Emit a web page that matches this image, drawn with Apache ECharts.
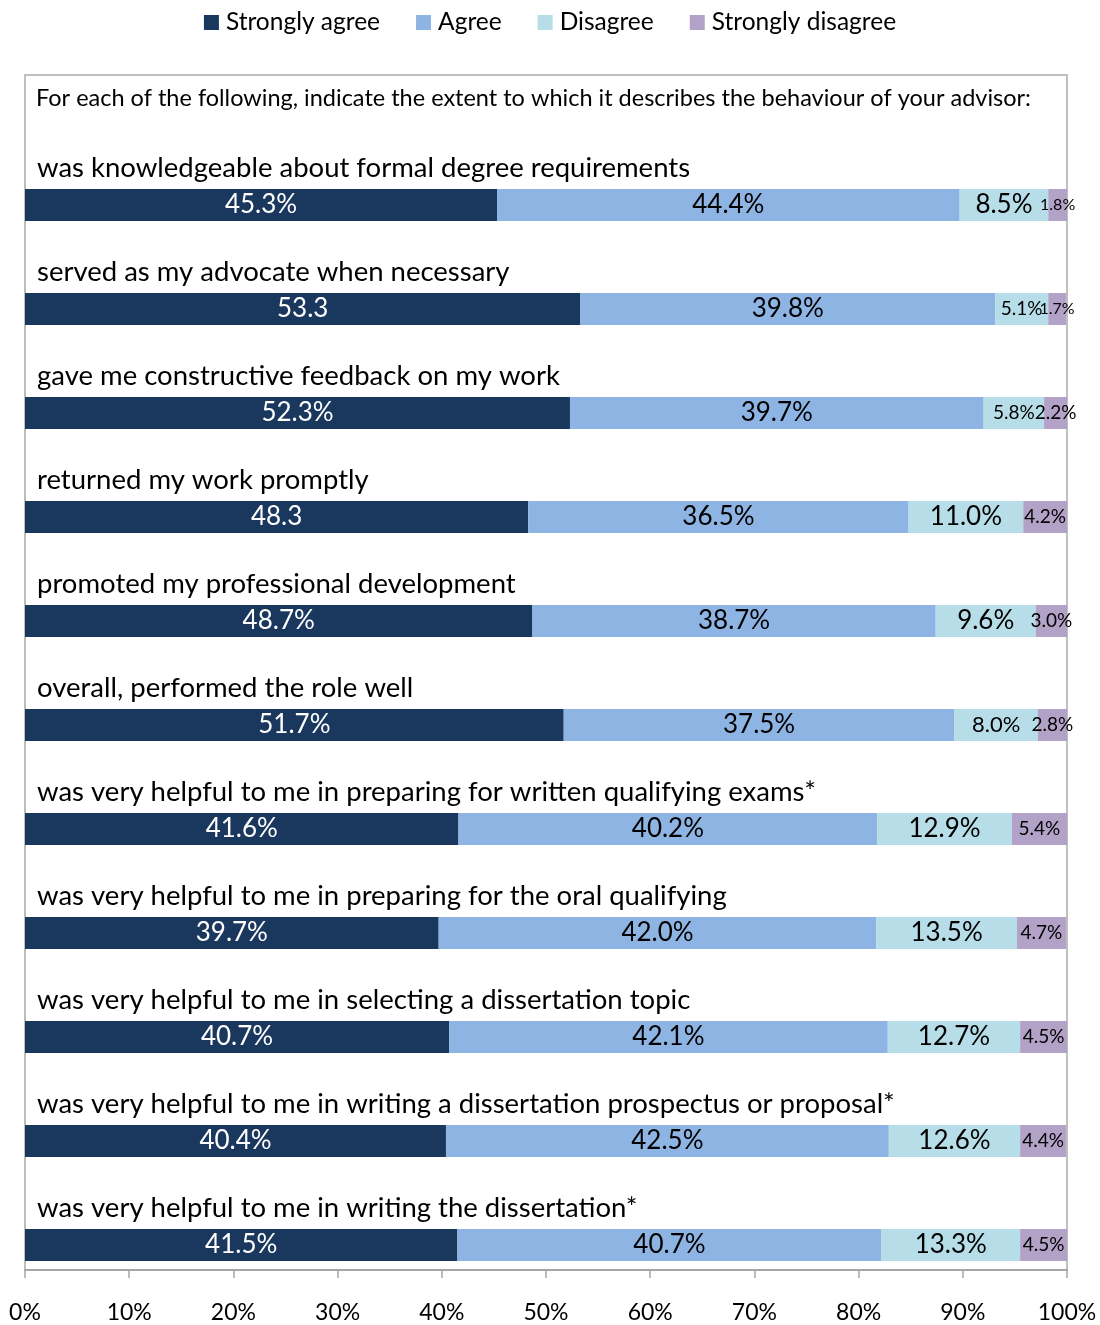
<!DOCTYPE html>
<html>
<head>
<meta charset="utf-8">
<script src="https://cdn.jsdelivr.net/npm/echarts@6/dist/echarts.min.js"></script>
<style>
html,body{margin:0;padding:0;background:#fff;}
#chart{width:1100px;height:1325px;}
</style>
</head>
<body>
<div id="chart"></div>
<script>
const headerText = 'For each of the following, indicate the extent to which it describes the behaviour of your advisor:';
const categories = [
  'was knowledgeable about formal degree requirements',
  'served as my advocate when necessary',
  'gave me constructive feedback on my work',
  'returned my work promptly',
  'promoted my professional development',
  'overall, performed the role well',
  'was very helpful to me in preparing for written qualifying exams*',
  'was very helpful to me in preparing for the oral qualifying',
  'was very helpful to me in selecting a dissertation topic',
  'was very helpful to me in writing a dissertation prospectus or proposal*',
  'was very helpful to me in writing the dissertation*'
];
const seriesNames = ['Strongly agree', 'Agree', 'Disagree', 'Strongly disagree'];
const stronglyAgree    = [45.3, 53.3, 52.3, 48.3, 48.7, 51.7, 41.6, 39.7, 40.7, 40.4, 41.5];
const agree            = [44.4, 39.8, 39.7, 36.5, 38.7, 37.5, 40.2, 42.0, 42.1, 42.5, 40.7];
const disagree         = [8.5, 5.1, 5.8, 11.0, 9.6, 8.0, 12.9, 13.5, 12.7, 12.6, 13.3];
const stronglyDisagree = [1.8, 1.7, 2.2, 4.2, 3.0, 2.8, 5.4, 4.7, 4.5, 4.4, 4.5];
const stronglyAgreeLabels = ['45.3%', '53.3', '52.3%', '48.3', '48.7%', '51.7%', '41.6%', '39.7%', '40.7%', '40.4%', '41.5%'];
const xTicks = [0, 10, 20, 30, 40, 50, 60, 70, 80, 90, 100];

const colors = ['#1a375e', '#8eb4e3', '#b7dee8', '#b3a2c7'];
const FONT = 'Lato';
const allValues = [stronglyAgree, agree, disagree, stronglyDisagree];

function labelSize(v) {
  if (v < 2) return 16;
  if (v < 6.5) return 19;
  if (v < 8.3) return 22;
  return 26;
}

const series = allValues.map((vals, si) => ({
  name: seriesNames[si],
  type: 'bar',
  stack: 'total',
  barWidth: 32,
  itemStyle: { color: colors[si] },
  data: vals.map(v => ({
    value: v,
    label: { fontSize: labelSize(v) }
  })),
  label: {
    show: true,
    position: 'inside',
    color: si === 0 ? '#ffffff' : '#000000',
    fontFamily: FONT,
    formatter: p => si === 0 ? stronglyAgreeLabels[p.dataIndex] : p.value.toFixed(1) + '%'
  }
}));

const chart = echarts.init(document.getElementById('chart'), null, { renderer: 'canvas' });
chart.setOption({
  animation: false,
  backgroundColor: '#ffffff',
  legend: {
    data: seriesNames,
    top: 5,
    left: 'center',
    icon: 'rect',
    itemWidth: 15,
    itemHeight: 15,
    itemGap: 36,
    textStyle: { fontSize: 24.5, fontFamily: FONT, color: '#000', padding: [0, 0, 0, 2] }
  },
  graphic: [
    {
      type: 'rect',
      z: 0,
      silent: true,
      shape: { x: 25, y: 75, width: 1042, height: 1195 },
      style: { fill: 'none', stroke: '#bfbfbf', lineWidth: 2 }
    },
    {
      type: 'text',
      left: 36,
      top: 86,
      silent: true,
      style: { text: headerText, fontSize: 23.5, fontFamily: FONT, fill: '#000' }
    }
  ],
  grid: { left: 25, width: 1042, top: 153, height: 1144, containLabel: false },
  xAxis: {
    type: 'value',
    min: 0,
    max: 100,
    interval: 10,
    offset: -27,
    axisLine: { show: true, lineStyle: { color: '#a6a6a6', width: 2 } },
    axisTick: { show: true, length: 8, lineStyle: { color: '#a6a6a6', width: 1.5 } },
    splitLine: { show: false },
    axisLabel: {
      fontSize: 23,
      fontFamily: FONT,
      color: '#000',
      margin: 31,
      formatter: v => xTicks.includes(v) ? v + '%' : ''
    }
  },
  yAxis: {
    type: 'category',
    inverse: true,
    data: categories,
    axisLine: { show: false },
    axisTick: { show: false },
    axisLabel: {
      inside: true,
      interval: 0,
      align: 'left',
      verticalAlign: 'bottom',
      margin: 12,
      padding: [0, 0, 20, 0],
      fontSize: 27.5,
      lineHeight: 33,
      fontFamily: FONT,
      color: '#000'
    }
  },
  series: series
});
</script>
</body>
</html>
